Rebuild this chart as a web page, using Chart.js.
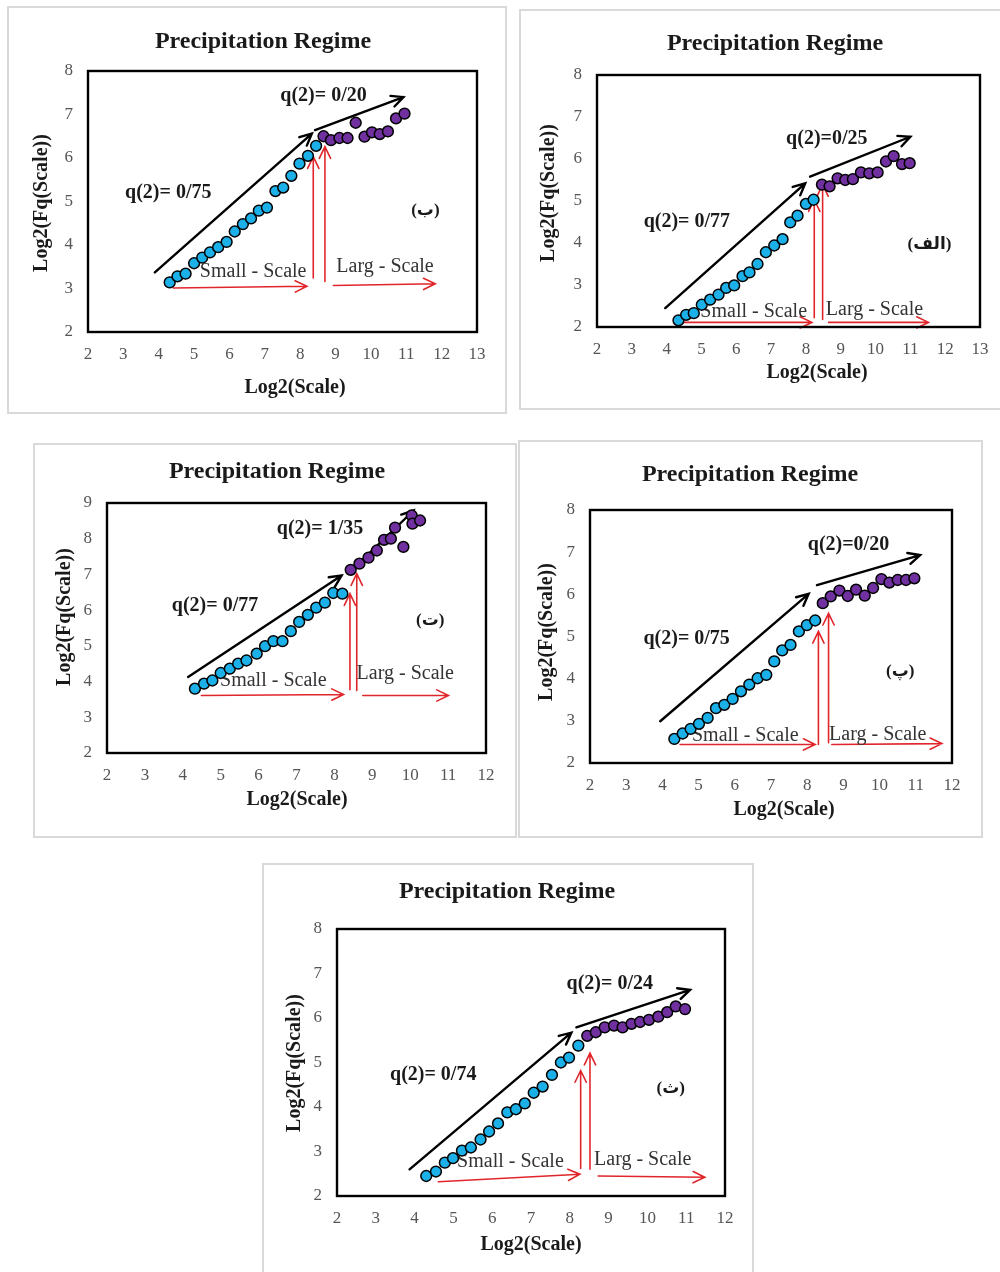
<!DOCTYPE html>
<html>
<head>
<meta charset="utf-8">
<script src="https://cdn.jsdelivr.net/npm/chart.js@4"></script>
<style>
  body { margin: 0; background: #fff; width: 1000px; height: 1272px; position: relative; overflow: hidden; }
  canvas { position: absolute; }
  .frame { position: absolute; box-sizing: border-box; border: 2px solid #d9d9d9; pointer-events: none; }
</style>
</head>
<body>
<script>
// ---- data ----
// (ب)
const beSmallX = [4.31, 4.53, 4.76, 5.00, 5.23, 5.45, 5.68, 5.92, 6.15, 6.38, 6.61, 6.83, 7.06, 7.30, 7.52, 7.75, 7.98, 8.22, 8.45];
const beSmallY = [3.14, 3.28, 3.34, 3.58, 3.71, 3.83, 3.95, 4.07, 4.31, 4.48, 4.61, 4.79, 4.86, 5.24, 5.32, 5.59, 5.87, 6.05, 6.28];
const beLargeX = [8.66, 8.87, 9.11, 9.34, 9.57, 9.82, 10.03, 10.25, 10.48, 10.71, 10.95];
const beLargeY = [6.50, 6.41, 6.46, 6.46, 6.81, 6.49, 6.59, 6.55, 6.61, 6.91, 7.02];
// (الف)
const alefSmallX = [4.34, 4.56, 4.78, 5.01, 5.25, 5.49, 5.71, 5.94, 6.18, 6.38, 6.61, 6.85, 7.09, 7.33, 7.55, 7.76, 8.00, 8.22];
const alefSmallY = [2.16, 2.29, 2.33, 2.53, 2.65, 2.77, 2.93, 2.99, 3.21, 3.30, 3.50, 3.78, 3.94, 4.09, 4.49, 4.65, 4.93, 5.03];
const alefLargeX = [8.46, 8.68, 8.91, 9.13, 9.35, 9.58, 9.82, 10.06, 10.30, 10.52, 10.76, 10.98];
const alefLargeY = [5.39, 5.35, 5.54, 5.50, 5.52, 5.68, 5.66, 5.68, 5.94, 6.07, 5.88, 5.90];
// (ت)
const teSmallX = [4.32, 4.56, 4.78, 5.00, 5.24, 5.46, 5.68, 5.95, 6.17, 6.39, 6.63, 6.85, 7.07, 7.30, 7.52, 7.75, 7.97, 8.21];
const teSmallY = [3.80, 3.94, 4.03, 4.24, 4.36, 4.50, 4.59, 4.78, 4.99, 5.13, 5.13, 5.41, 5.67, 5.87, 6.07, 6.21, 6.48, 6.46];
const teLargeX = [8.43, 8.66, 8.90, 9.12, 9.31, 9.49, 9.60, 9.82, 10.04, 10.06, 10.26];
const teLargeY = [7.13, 7.30, 7.47, 7.67, 7.97, 8.00, 8.31, 7.77, 8.65, 8.42, 8.51];
// (پ)
const peSmallX = [4.33, 4.56, 4.78, 5.01, 5.25, 5.48, 5.71, 5.94, 6.17, 6.40, 6.63, 6.87, 7.09, 7.31, 7.54, 7.77, 7.99, 8.22];
const peSmallY = [2.57, 2.70, 2.81, 2.93, 3.07, 3.30, 3.38, 3.52, 3.70, 3.86, 4.01, 4.09, 4.41, 4.67, 4.80, 5.12, 5.27, 5.38];
const peLargeX = [8.43, 8.65, 8.89, 9.12, 9.35, 9.59, 9.82, 10.05, 10.27, 10.50, 10.73, 10.96];
const peLargeY = [5.79, 5.95, 6.09, 5.96, 6.11, 5.97, 6.15, 6.36, 6.28, 6.34, 6.34, 6.38];
// (ث)
const seSmallX = [4.30, 4.55, 4.78, 4.99, 5.22, 5.45, 5.70, 5.92, 6.15, 6.39, 6.61, 6.84, 7.07, 7.30, 7.54, 7.77, 7.98, 8.22];
const seSmallY = [2.45, 2.55, 2.75, 2.85, 3.02, 3.09, 3.27, 3.45, 3.63, 3.88, 3.95, 4.08, 4.32, 4.46, 4.72, 5.00, 5.11, 5.38];
const seLargeX = [8.45, 8.67, 8.90, 9.14, 9.36, 9.59, 9.81, 10.04, 10.28, 10.51, 10.73, 10.97];
const seLargeY = [5.60, 5.68, 5.79, 5.83, 5.79, 5.87, 5.91, 5.96, 6.03, 6.13, 6.26, 6.20];

// axis ranges (tick labels run min..max step 1)
const beXTicks = [2, 13], beYTicks = [2, 8];
const alefXTicks = [2, 13], alefYTicks = [2, 8];
const teXTicks = [2, 12], teYTicks = [2, 9];
const peXTicks = [2, 12], peYTicks = [2, 8];
const seXTicks = [2, 12], seYTicks = [2, 8];

// slope labels
const beSlopes = ['q(2)= 0/75', 'q(2)= 0/20'];
const alefSlopes = ['q(2)= 0/77', 'q(2)=0/25'];
const teSlopes = ['q(2)= 0/77', 'q(2)= 1/35'];
const peSlopes = ['q(2)= 0/75', 'q(2)=0/20'];
const seSlopes = ['q(2)= 0/74', 'q(2)= 0/24'];

const SERIF = '"Liberation Serif", "Times New Roman", "DejaVu Sans", serif';
const BLUE = '#1cb0e8';
const PURPLE = '#7030a0';
const RED = '#e0262b';

// page layout of each panel: outer box, plot area, title anchors (page px)
// annotations in data units
const panels = [
  {
    box: [7, 6, 507, 414], plot: [88, 71, 477, 332],
    title: [263, 42], xTitle: [295, 388], yTitle: [42, 203],
    xr: beXTicks, yr: beYTicks, sx: beSmallX, sy: beSmallY, lx: beLargeX, ly: beLargeY,
    black: [[[3.89, 3.37], [8.33, 6.56]], [[8.42, 6.64], [10.92, 7.40]]],
    red: [[[4.41, 3.01], [8.19, 3.05]], [[8.37, 3.24], [8.37, 6.03]], [[8.70, 3.16], [8.70, 6.26]], [[8.94, 3.07], [11.82, 3.11]]],
    slopes: beSlopes, slopeAt: [[4.27, 5.19], [8.66, 7.44]],
    letter: '(ب)', letterAt: [11.54, 4.79], smallAt: [6.67, 3.39], largeAt: [10.40, 3.50]
  },
  {
    box: [519, 9, 1003, 410], plot: [597, 75, 980, 327],
    title: [775, 44], xTitle: [817, 373], yTitle: [549, 193],
    xr: alefXTicks, yr: alefYTicks, sx: alefSmallX, sy: alefSmallY, lx: alefLargeX, ly: alefLargeY,
    black: [[[3.96, 2.45], [7.98, 5.42]], [[8.12, 5.58], [11.0, 6.53]]],
    red: [[[4.49, 2.11], [8.17, 2.11]], [[8.24, 2.22], [8.24, 5.03]], [[8.48, 2.18], [8.48, 5.39]], [[8.65, 2.11], [11.52, 2.11]]],
    slopes: alefSlopes, slopeAt: [[4.58, 4.51], [8.60, 6.49]],
    letter: '(الف)', letterAt: [11.55, 3.96], smallAt: [6.50, 2.37], largeAt: [9.97, 2.41]
  },
  {
    box: [33, 443, 517, 838], plot: [107, 503, 486, 753],
    title: [277, 472], xTitle: [297, 800], yTitle: [65, 617],
    xr: teXTicks, yr: teYTicks, sx: teSmallX, sy: teSmallY, lx: teLargeX, ly: teLargeY,
    black: [[[4.14, 4.13], [8.19, 6.97]], [[8.41, 7.07], [10.09, 8.79]]],
    red: [[[4.49, 3.61], [8.24, 3.64]], [[8.41, 3.77], [8.41, 6.46]], [[8.59, 3.75], [8.59, 7.02]], [[8.75, 3.61], [11.01, 3.61]]],
    slopes: teSlopes, slopeAt: [[4.85, 6.13], [7.62, 8.28]],
    letter: '(ت)', letterAt: [10.53, 5.71], smallAt: [6.39, 4.03], largeAt: [9.87, 4.22]
  },
  {
    box: [518, 440, 983, 838], plot: [590, 510, 952, 763],
    title: [750, 475], xTitle: [784, 810], yTitle: [547, 632],
    xr: peXTicks, yr: peYTicks, sx: peSmallX, sy: peSmallY, lx: peLargeX, ly: peLargeY,
    black: [[[3.94, 2.99], [8.04, 6.01]], [[8.27, 6.22], [11.12, 6.93]]],
    red: [[[4.49, 2.44], [8.22, 2.44]], [[8.31, 2.44], [8.31, 5.12]], [[8.59, 2.48], [8.59, 5.55]], [[8.68, 2.44], [11.72, 2.46]]],
    slopes: peSlopes, slopeAt: [[4.67, 4.94], [9.14, 7.17]],
    letter: '(پ)', letterAt: [10.57, 4.17], smallAt: [6.29, 2.65], largeAt: [9.95, 2.67]
  },
  {
    box: [262, 863, 754, 1276], plot: [337, 929, 725, 1196],
    title: [507, 892], xTitle: [531, 1245], yTitle: [295, 1063],
    xr: seXTicks, yr: seYTicks, sx: seSmallX, sy: seSmallY, lx: seLargeX, ly: seLargeY,
    black: [[[3.87, 2.60], [8.04, 5.67]], [[8.17, 5.79], [11.10, 6.63]]],
    red: [[[4.61, 2.32], [8.26, 2.49]], [[8.28, 2.62], [8.28, 4.82]], [[8.52, 2.60], [8.52, 5.21]], [[8.73, 2.45], [11.48, 2.42]]],
    slopes: seSlopes, slopeAt: [[4.48, 4.72], [9.03, 6.77]],
    letter: '(ث)', letterAt: [10.60, 4.42], smallAt: [6.47, 2.77], largeAt: [9.88, 2.81]
  }
];

function arrow(ctx, x1, y1, x2, y2, color, width) {
  const ang = Math.atan2(y2 - y1, x2 - x1), head = 13, spread = Math.PI / 7;
  ctx.strokeStyle = color;
  ctx.lineWidth = width;
  ctx.beginPath();
  ctx.moveTo(x1, y1);
  ctx.lineTo(x2, y2);
  ctx.moveTo(x2 - head * Math.cos(ang - spread), y2 - head * Math.sin(ang - spread));
  ctx.lineTo(x2, y2);
  ctx.lineTo(x2 - head * Math.cos(ang + spread), y2 - head * Math.sin(ang + spread));
  ctx.stroke();
}

const decor = {
  id: 'decor',
  beforeDatasetsDraw(chart) {
    const p = chart.options.plugins.decor.panel;
    const { ctx, chartArea: a, scales: { x, y } } = chart;
    const px = v => x.getPixelForValue(v), py = v => y.getPixelForValue(v);
    ctx.save();
    ctx.lineCap = 'round';
    p.black.forEach(s => arrow(ctx, px(s[0][0]), py(s[0][1]), px(s[1][0]), py(s[1][1]), '#000', 2.4));
    p.red.forEach(s => arrow(ctx, px(s[0][0]), py(s[0][1]), px(s[1][0]), py(s[1][1]), RED, 1.6));

    ctx.textAlign = 'center';
    ctx.textBaseline = 'middle';
    ctx.fillStyle = '#1a1a1a';
    ctx.font = 'bold 20px ' + SERIF;
    p.slopes.forEach((t, i) => ctx.fillText(t, px(p.slopeAt[i][0]), py(p.slopeAt[i][1])));
    ctx.font = 'bold 17px ' + SERIF;
    ctx.fillText(p.letter, px(p.letterAt[0]), py(p.letterAt[1]));
    ctx.fillStyle = '#333';
    ctx.font = '20px ' + SERIF;
    ctx.fillText('Small - Scale', px(p.smallAt[0]), py(p.smallAt[1]));
    ctx.fillText('Larg - Scale', px(p.largeAt[0]), py(p.largeAt[1]));

    // plot frame
    ctx.strokeStyle = '#000';
    ctx.lineWidth = 2.4;
    ctx.strokeRect(a.left, a.top, a.width, a.height);
    ctx.restore();
  },
  afterDraw(chart) {
    const p = chart.options.plugins.decor.panel;
    const ctx = chart.ctx, ox = p.box[0], oy = p.box[1];
    ctx.save();
    ctx.fillStyle = '#1a1a1a';
    ctx.textAlign = 'center';
    ctx.textBaseline = 'middle';
    ctx.font = 'bold 24px ' + SERIF;
    ctx.fillText('Precipitation Regime', p.title[0] - ox, p.title[1] - oy);
    ctx.font = 'bold 20px ' + SERIF;
    ctx.fillText('Log2(Scale)', p.xTitle[0] - ox, p.xTitle[1] - oy);
    ctx.translate(p.yTitle[0] - ox, p.yTitle[1] - oy);
    ctx.rotate(-Math.PI / 2);
    ctx.fillText('Log2(Fq(Scale))', 0, 0);
    ctx.restore();
  }
};

panels.forEach(p => {
  const [bx0, by0, bx1, by1] = p.box;
  const [qx0, qy0, qx1, qy1] = p.plot;
  const canvas = document.createElement('canvas');
  canvas.width = bx1 - bx0;
  canvas.height = by1 - by0;
  canvas.style.left = bx0 + 'px';
  canvas.style.top = by0 + 'px';
  document.body.appendChild(canvas);
  const frame = document.createElement('div');
  frame.className = 'frame';
  Object.assign(frame.style, { left: bx0 + 'px', top: by0 + 'px', width: (bx1 - bx0) + 'px', height: (by1 - by0) + 'px' });
  document.body.appendChild(frame);

  const pts = (xs, ys) => xs.map((v, i) => ({ x: v, y: ys[i] }));

  new Chart(canvas, {
    type: 'scatter',
    data: {
      datasets: [{
        label: 'Small - Scale',
        data: pts(p.sx, p.sy),
        backgroundColor: BLUE,
        borderColor: '#000',
        borderWidth: 1.5,
        pointRadius: 5.4
      }, {
        label: 'Larg - Scale',
        data: pts(p.lx, p.ly),
        backgroundColor: PURPLE,
        borderColor: '#000',
        borderWidth: 1.5,
        pointRadius: 5.4
      }]
    },
    options: {
      responsive: false,
      animation: false,
      layout: { padding: { left: 0, top: qy0 - by0, right: bx1 - qx1, bottom: 0 } },
      plugins: {
        legend: { display: false },
        tooltip: { enabled: false },
        decor: { panel: p }
      },
      scales: {
        x: {
          type: 'linear', min: p.xr[0], max: p.xr[1],
          grid: { display: false, drawTicks: false },
          border: { display: false },
          ticks: { stepSize: 1, padding: 12, color: '#555', font: { family: SERIF, size: 17 } },
          afterFit: s => { s.height = by1 - qy1; }
        },
        y: {
          type: 'linear', min: p.yr[0], max: p.yr[1],
          grid: { display: false, drawTicks: false },
          border: { display: false },
          ticks: { stepSize: 1, padding: 15, color: '#555', font: { family: SERIF, size: 17 } },
          afterFit: s => { s.width = qx0 - bx0; }
        }
      }
    },
    plugins: [decor]
  });
});
</script>
</body>
</html>
